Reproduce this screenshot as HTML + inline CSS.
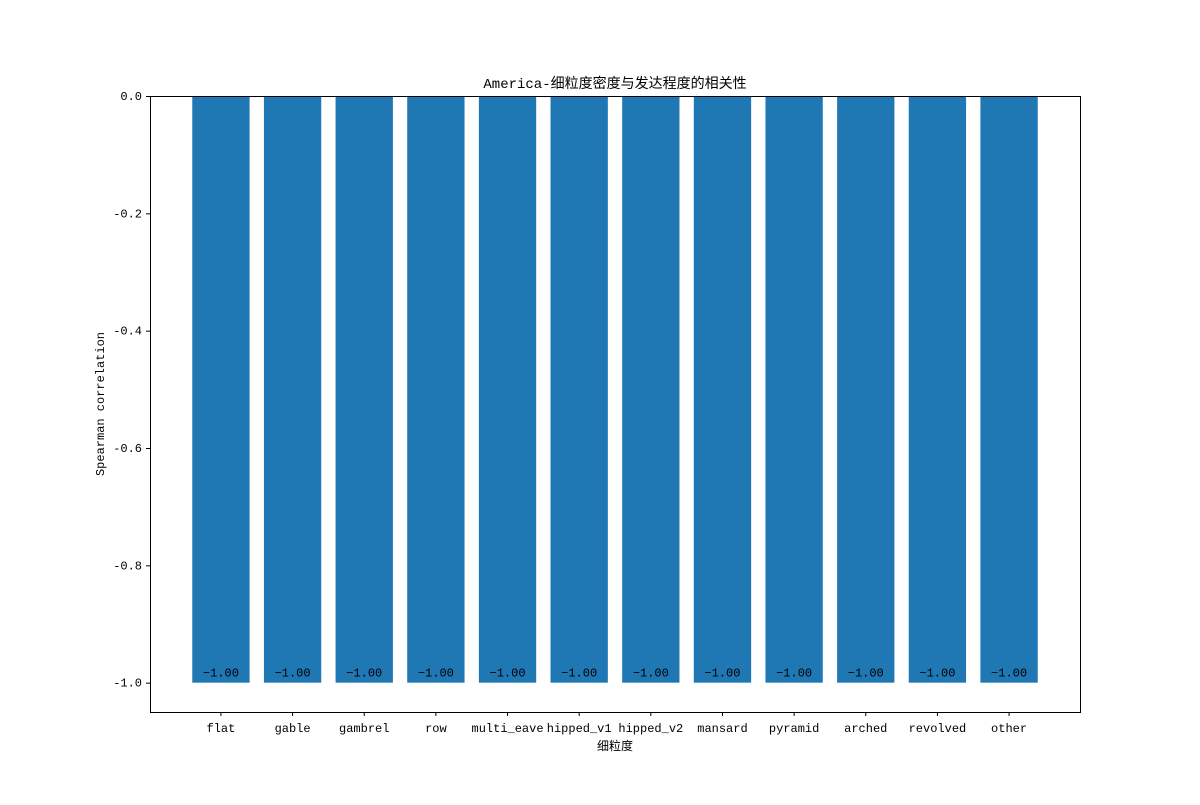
<!DOCTYPE html>
<html><head><meta charset="utf-8"><style>
body{margin:0;background:#fff;}
svg text{font-family:"Liberation Mono","Noto Sans CJK SC",monospace;font-size:12px;fill:#000;}
</style></head><body>
<svg id="chart" width="1200" height="800">
<text x="615" y="88" text-anchor="middle" style="font-size:14px">America-细粒度密度与发达程度的相关性</text>
<g id="bars"></g>
<g id="yaxis"></g>
<g id="xaxis"></g>
<rect x="150.5" y="96.5" width="930" height="616" fill="none" stroke="#000" stroke-width="1"/>
<text x="615" y="750" text-anchor="middle">细粒度</text>
<text transform="translate(104,404) rotate(-90)" text-anchor="middle">Spearman correlation</text>
</svg>
<script>
const categories=["flat","gable","gambrel","row","multi_eave","hipped_v1","hipped_v2","mansard","pyramid","arched","revolved","other"];
const values=[-1,-1,-1,-1,-1,-1,-1,-1,-1,-1,-1,-1];
const yTicks=[0,-0.2,-0.4,-0.6,-0.8,-1.0];
const yTickLabels=["0.0","-0.2","-0.4","-0.6","-0.8","-1.0"];
const NS="http://www.w3.org/2000/svg";
const L=150,R=1080,T=96,B=712;
const n=categories.length;
const xMin=-0.4-0.05*(n-1+0.8),xMax=n-1+0.4+0.05*(n-1+0.8);
const yMin=-1.05,yMax=0;
const xs=v=>L+(v-xMin)/(xMax-xMin)*(R-L);
const ys=v=>T+(yMax-v)/(yMax-yMin)*(B-T);
function mk(tag,attrs,parent){const e=document.createElementNS(NS,tag);for(const k in attrs)e.setAttribute(k,attrs[k]);parent.appendChild(e);return e;}
const gb=document.getElementById('bars'),gx=document.getElementById('xaxis'),gy=document.getElementById('yaxis');
values.forEach((v,i)=>{
  const x0=xs(i-0.4),x1=xs(i+0.4),y0=ys(0),y1=ys(v);
  const r=mk('rect',{x:x0,y:Math.min(y0,y1),width:x1-x0,height:Math.abs(y1-y0),fill:'#1f77b4'},gb);
  
  
  const t=mk('text',{x:xs(i),y:y1-6,'text-anchor':'middle'},gb);
  t.textContent=v.toFixed(2).replace('-','−');
  
  
  mk('line',{x1:xs(i),x2:xs(i),y1:B,y2:B+4,stroke:'#000'},gx);
  const lt=mk('text',{x:xs(i),y:B+20,'text-anchor':'middle'},gx);
  lt.textContent=categories[i];
  
  
});
yTicks.forEach((v,i)=>{
  mk('line',{x1:L-4,x2:L,y1:ys(v)+0.5,y2:ys(v)+0.5,stroke:'#000'},gy);
  const t=mk('text',{x:L-8,y:ys(v)+4,'text-anchor':'end'},gy);
  t.textContent=yTickLabels[i];
  
  
});
</script>
</body></html>
